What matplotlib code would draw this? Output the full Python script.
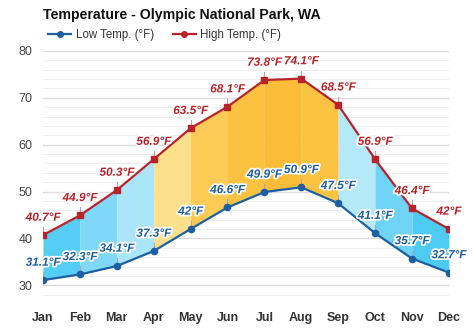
import matplotlib
matplotlib.use("Agg")
import matplotlib.pyplot as plt
import matplotlib.patheffects as pe
from matplotlib.lines import Line2D
import numpy as np

months = ["Jan", "Feb", "Mar", "Apr", "May", "Jun", "Jul", "Aug", "Sep", "Oct", "Nov", "Dec"]
high = [40.7, 44.9, 50.3, 56.9, 63.5, 68.1, 73.8, 74.1, 68.5, 56.9, 46.4, 42]
low = [31.1, 32.3, 34.1, 37.3, 42, 46.6, 49.9, 50.9, 47.5, 41.1, 35.7, 32.7]
high_labels = ["40.7°F", "44.9°F", "50.3°F", "56.9°F", "63.5°F", "68.1°F", "73.8°F", "74.1°F", "68.5°F", "56.9°F", "46.4°F", "42°F"]
low_labels = ["31.1°F", "32.3°F", "34.1°F", "37.3°F", "42°F", "46.6°F", "49.9°F", "50.9°F", "47.5°F", "41.1°F", "35.7°F", "32.7°F"]
seg_colors = ["#55cdf5", "#7fd8f7", "#abe5f9", "#fde08c", "#fccb55", "#fbc242", "#fbbd38", "#fcc342",
              "#b5e8f9", "#6fd3f6", "#4ecbf4"]
yticks = [30, 40, 50, 60, 70, 80]

plt.rcParams['font.family'] = ['Liberation Sans', 'DejaVu Sans']

fig = plt.figure(figsize=(4.74, 3.31), dpi=100)
ax = fig.add_axes([0.0907, 0.0816, 0.947 - 0.0907, 0.846 - 0.0816])

x = np.arange(len(months))
for i in range(len(months) - 1):
    ax.fill_between(x[i:i + 2], low[i:i + 2], high[i:i + 2], color=seg_colors[i], linewidth=0, zorder=1)

high_c = "#b8232a"
low_c = "#1d5fa0"
ax.plot(x, high, color=high_c, lw=1.6, marker='s', ms=4, zorder=4)
ax.plot(x, low, color=low_c, lw=1.6, marker='o', ms=4.5, zorder=4)

stroke = [pe.withStroke(linewidth=2.5, foreground='white')]
for xi, v, s in zip(x, high, high_labels):
    ax.plot([xi, xi], [v, v + 8 / 4.68], color="#aaaaaa", lw=0.8, zorder=3)
    ax.annotate(s, (xi, v), xytext=(0, 12.5), textcoords='offset points', ha='center', va='center',
                color=high_c, fontsize=8.5, fontweight='bold', fontstyle='italic', path_effects=stroke, zorder=5)
for xi, v, s in zip(x, low, low_labels):
    ax.plot([xi, xi], [v, v + 8 / 4.68], color="#aaaaaa", lw=0.8, zorder=3)
    ax.annotate(s, (xi, v), xytext=(0, 12.5), textcoords='offset points', ha='center', va='center',
                color=low_c, fontsize=8.5, fontweight='bold', fontstyle='italic', path_effects=stroke, zorder=5)

ax.set_xlim(0, 11)
ax.set_ylim(26, 80)
ax.set_yticks(yticks)
ax.set_yticks(np.arange(26, 81, 2), minor=True)
ax.grid(axis='y', which='major', color="#dddddd", lw=1.0, zorder=0)
ax.grid(axis='y', which='minor', color="#eeeeee", lw=0.7, zorder=0)
ax.set_axisbelow(True)
ax.set_xticks(x)
ax.set_xticklabels(months, fontweight='bold', fontsize=9, color="#333333")
ax.tick_params(axis='y', which='both', length=0, labelsize=9, labelcolor="#444444", pad=7.5)
ax.tick_params(axis='x', length=0, pad=6)
for sp in ax.spines.values():
    sp.set_visible(False)

fig.text(0.0907, 0.955, "Temperature - Olympic National Park, WA", fontsize=10.2, fontweight='bold',
         color="#111111", ha='left', va='center')
handles = [Line2D([0], [0], color=low_c, lw=1.6, marker='o', ms=4),
           Line2D([0], [0], color=high_c, lw=1.6, marker='o', ms=4)]
fig.legend(handles, ["Low Temp. (°F)", "High Temp. (°F)"], loc='center left', bbox_to_anchor=(0.08, 0.893),
           ncol=2, frameon=False, fontsize=8.3, handlelength=2.0, handletextpad=0.4, columnspacing=1.6,
           labelcolor="#333333")

fig.savefig("out.png", dpi=100)
